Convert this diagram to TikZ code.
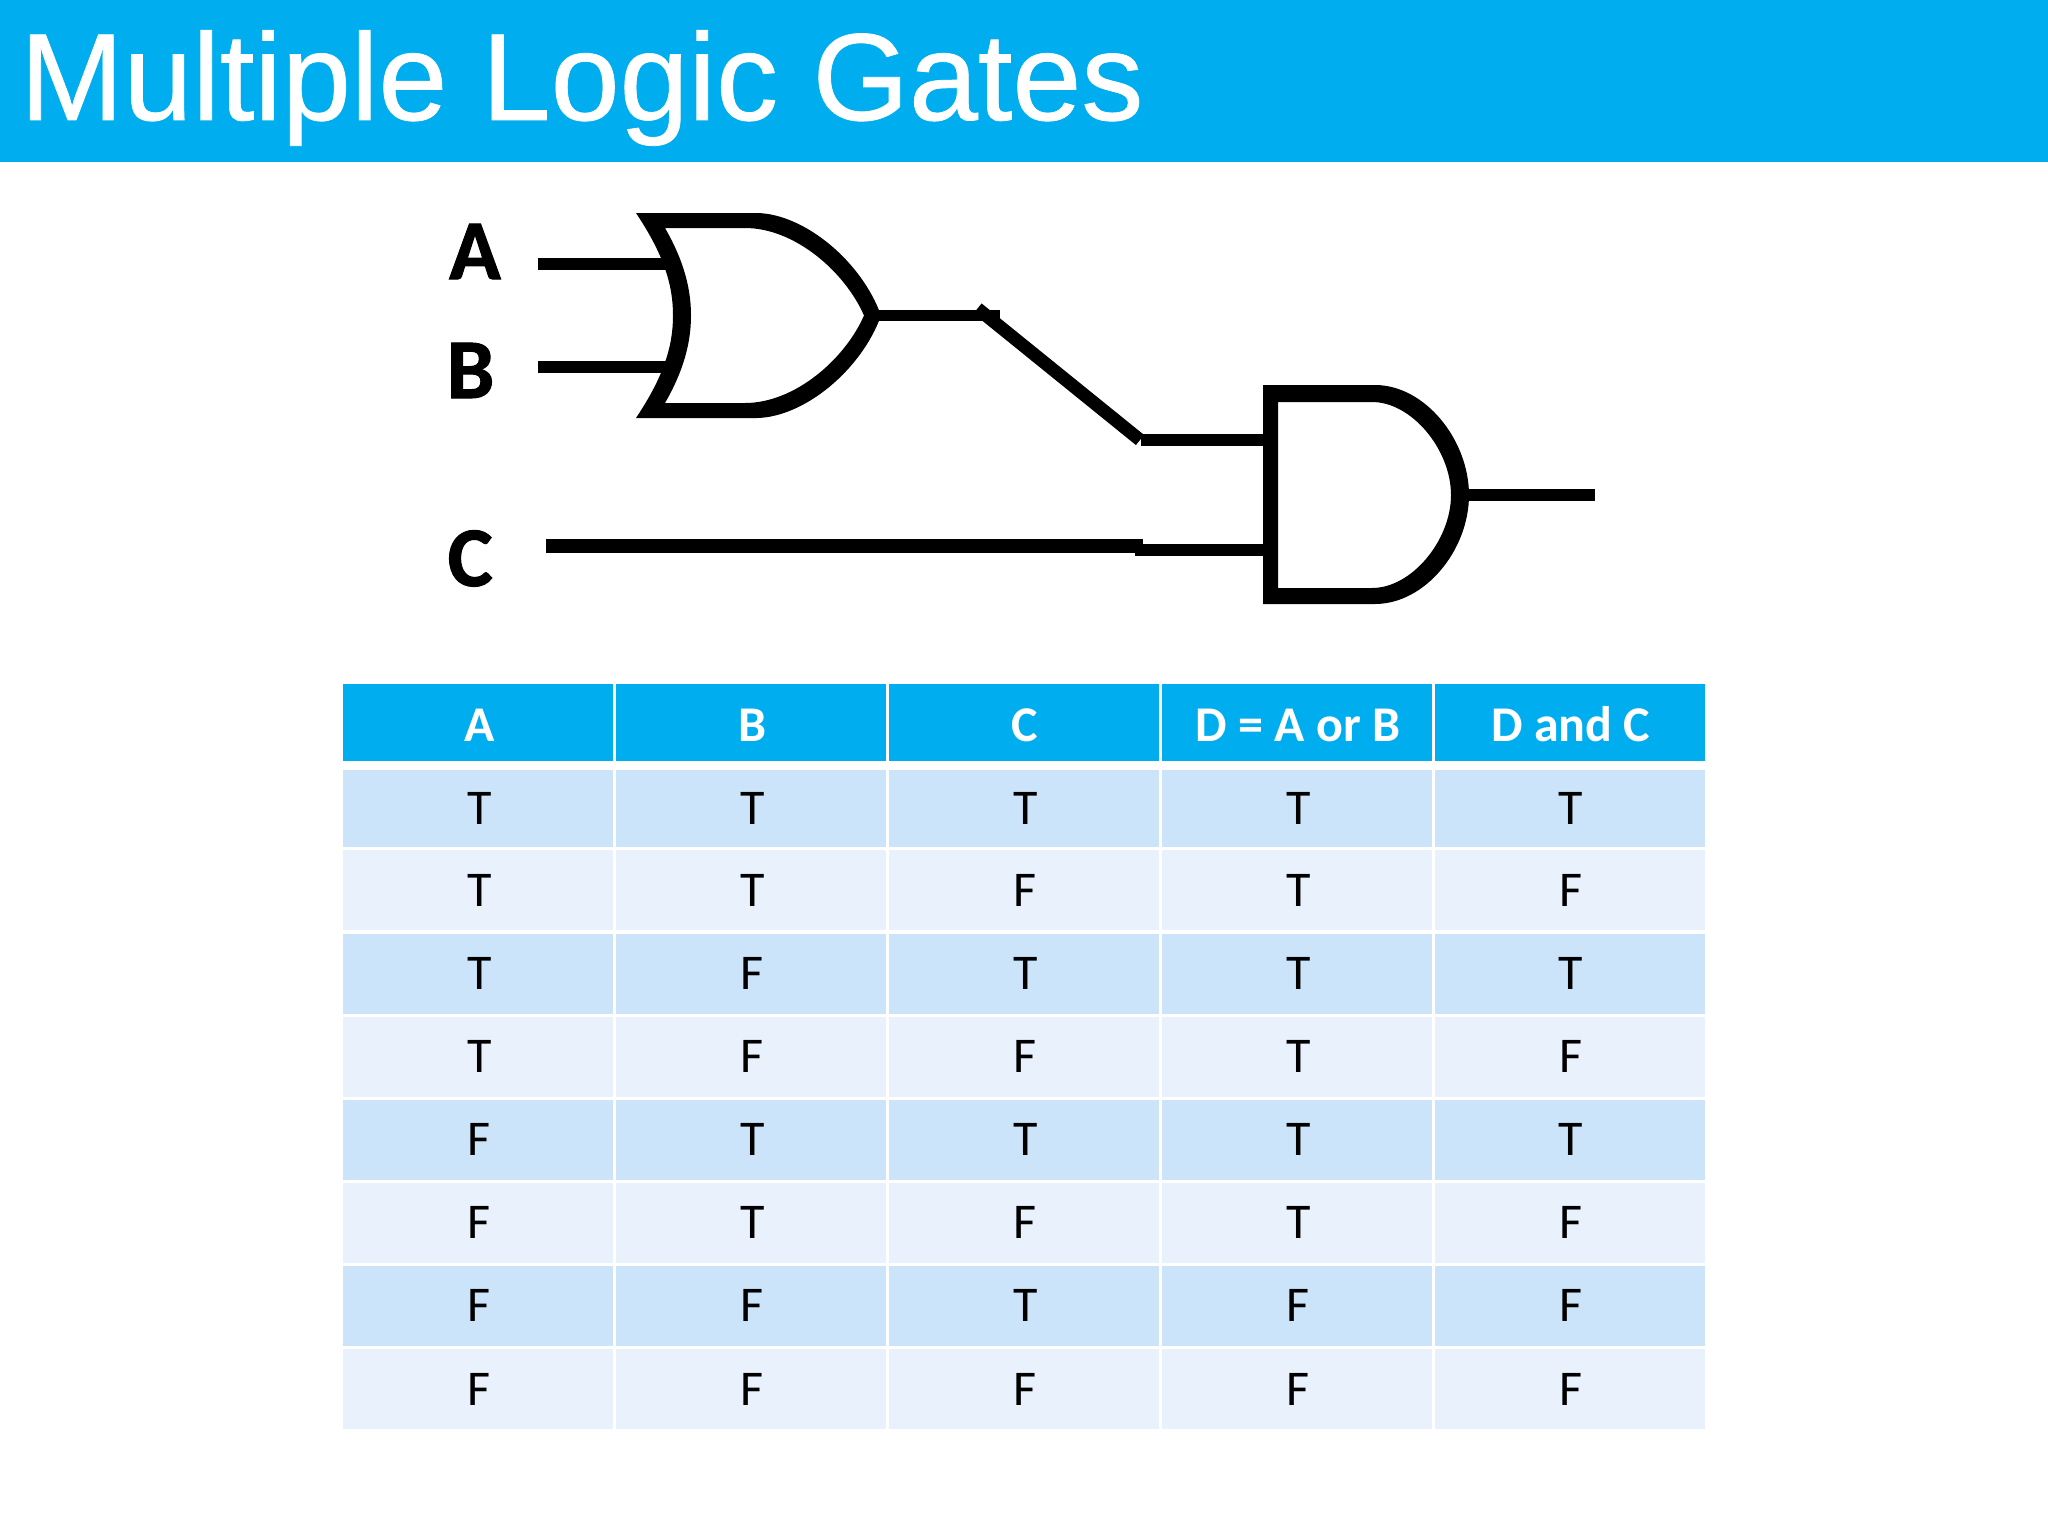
\documentclass[tikz,border=0pt]{standalone}
\usepackage{fontspec}
\setmainfont{Carlito}
\newfontfamily\titlefont[FakeBold=0.6]{Liberation Sans}
\newfontfamily\labelfont[FakeBold=1.2]{Carlito Bold}
\definecolor{hdrblue}{HTML}{00AEEF}
\definecolor{rowdark}{HTML}{CBE4F9}
\definecolor{rowlight}{HTML}{E8F1FC}
\tikzset{
  titletext/.style={anchor=base west,inner sep=0pt,text=white,font=\titlefont\fontsize{124}{124}\selectfont},
  inputlabel/.style={anchor=base west,inner sep=0pt,text=black,font=\labelfont\fontsize{85}{85}\selectfont},
  cellbase/.style={inner sep=0pt,outer sep=0pt,minimum width=270pt,text height=32pt,text depth=0pt,font=\fontsize{50}{50}\selectfont},
  hdrcell/.style={cellbase,fill=hdrblue,text=white,text height=37pt,font=\bfseries\fontsize{50}{50}\selectfont},
  bodycell/.style={cellbase,text=black},
  wirethin/.style={draw=black,line width=11.5pt},
  wirethick/.style={draw=black,line width=13.5pt},
  gateshape/.style={fill=black,even odd rule}
}
\newcommand{\cellshift}{\hspace*{2.4pt}}
\begin{document}
\begin{tikzpicture}[x=1pt,y=-1pt]
\useasboundingbox (0,0) rectangle (2048,1536);
\fill[white] (0,0) rectangle (2048,1536);
\fill[hdrblue] (0,0) rectangle (2048,162);
\node[titletext] (title) at (20,120) {Multiple Logic Gates};

% input labels
\node[inputlabel] (la) at (449,279) {A};
\node[inputlabel] (lb) at (446.5,398) {B};
\node[inputlabel] (lc) at (447.5,586) {C};

% wire end points
\coordinate (aIn) at (537.5,264);
\coordinate (aOut) at (672,264);
\coordinate (bIn) at (537.5,367);
\coordinate (bOut) at (672,367);
\coordinate (orOut) at (875,315.5);
\coordinate (kinkA) at (1000,315.5);
\coordinate (kinkB) at (977.5,308.5);
\coordinate (bendU) at (1140,440);
\coordinate (andU0) at (1141,440);
\coordinate (andU1) at (1270,440);
\coordinate (cIn) at (546,546);
\coordinate (cEnd) at (1143,546);
\coordinate (andL0) at (1134.5,550);
\coordinate (andL1) at (1270,550);
\coordinate (andOut) at (1462,495);
\coordinate (zOut) at (1595,495);

% wires
\draw[wirethin] (aIn) -- (aOut);
\draw[wirethin] (bIn) -- (bOut);
\draw[wirethin,line width=10.5pt] (orOut) -- (kinkA);
\draw[wirethin,line width=13pt] (kinkB) -- (bendU);
\draw[wirethin] (andU0) -- (andU1);
\draw[wirethick] (cIn) -- (cEnd);
\draw[wirethin] (andL0) -- (andL1);
\draw[wirethin] (andOut) -- (zOut);

% OR gate
\path[gateshape]
  (636,213) -- (757,213) .. controls (805,214) and (862,262) .. (881,315.5)
  .. controls (862,369) and (805,417) .. (757,418) -- (636,418)
  .. controls (664,376) and (673,346) .. (673,315.5)
  .. controls (673,285) and (664,255) .. (636,213) -- cycle
  (665,228) -- (745,228) .. controls (795,228) and (845,272) .. (864,315.5)
  .. controls (845,359) and (795,403) .. (745,403) -- (665,403)
  .. controls (684,370) and (691,342) .. (691,315.5)
  .. controls (691,289) and (684,261) .. (665,228) -- cycle;

% AND gate
\path[gateshape]
  (1263,385) -- (1375,385) .. controls (1425,385) and (1469,440) .. (1469,495)
  .. controls (1469,550) and (1425,604) .. (1375,604) -- (1263,604) -- cycle
  (1278,402) -- (1372,402) .. controls (1412,402) and (1451,450) .. (1451,495)
  .. controls (1451,540) and (1412,588) .. (1372,588) -- (1278,588) -- cycle;

% table header
\foreach \n/\cx/\txt in {1/478/A,2/751/B,3/1024/C,4/1297/{D = A or B},5/1569.5/{D and C}}
  \node[hdrcell,minimum height=77pt] (h\n) at (\cx,722.5) {\cellshift\txt};

% table rows
\foreach \r/\cy/\hh/\col/\va/\vb/\vc/\vd/\ve in {
  1/808.5/77/rowdark/T/T/T/T/T,
  2/890/80/rowlight/T/T/F/T/F,
  3/973.5/80/rowdark/T/F/T/T/T,
  4/1056.5/80/rowlight/T/F/F/T/F,
  5/1139.5/80/rowdark/F/T/T/T/T,
  6/1222.5/80/rowlight/F/T/F/T/F,
  7/1305.5/80/rowdark/F/F/T/F/F,
  8/1389/80/rowlight/F/F/F/F/F}
{
  \node[bodycell,fill=\col,minimum height=\hh pt] (c\r a) at (478,\cy) {\cellshift\va};
  \node[bodycell,fill=\col,minimum height=\hh pt] (c\r b) at (751,\cy) {\cellshift\vb};
  \node[bodycell,fill=\col,minimum height=\hh pt] (c\r c) at (1024,\cy) {\cellshift\vc};
  \node[bodycell,fill=\col,minimum height=\hh pt] (c\r d) at (1297,\cy) {\cellshift\vd};
  \node[bodycell,fill=\col,minimum height=\hh pt] (c\r e) at (1569.5,\cy) {\cellshift\ve};
}
\end{tikzpicture}
\end{document}
